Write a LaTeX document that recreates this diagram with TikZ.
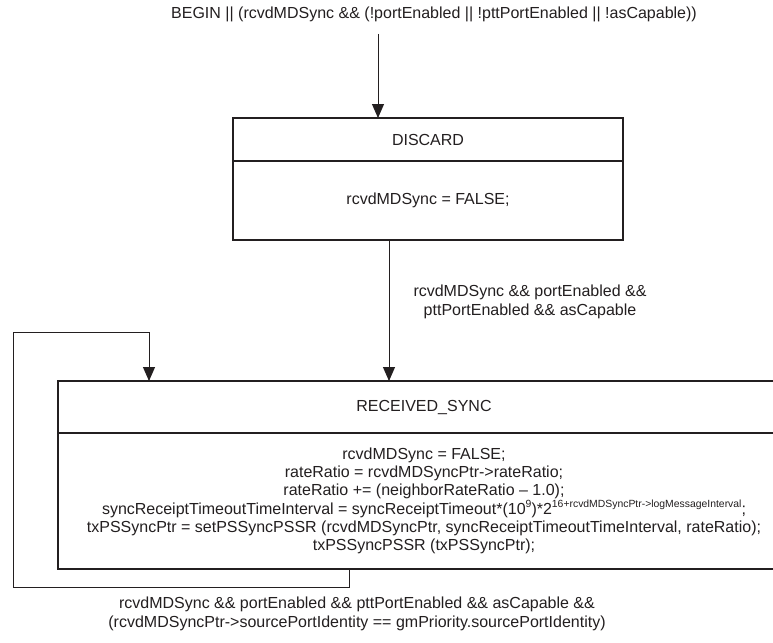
\documentclass[tikz,border=0pt]{standalone}
\usepackage{fontspec}
\setmainfont{Liberation Sans}
\usetikzlibrary{arrows.meta}
\definecolor{ink}{RGB}{35,31,32}
\newcommand{\supx}[1]{\raisebox{6.5pt}{\fontsize{10.4}{12}\selectfont #1}}
\begin{document}
\begin{tikzpicture}[x=1pt,y=-1pt,
  txt/.style={inner sep=0pt, outer sep=0pt, text=ink, font=\fontsize{16}{18.3}\selectfont},
  statebox/.style={txt, draw=ink, line width=1.8pt, rectangle},
  arr/.style={draw=ink, line width=1pt, -{Triangle[length=14pt,width=12pt]}}]
\useasboundingbox (0,0) rectangle (773,642);
\clip (0,0) rectangle (773,642);
\fill[white] (0,0) rectangle (773,642);

\node[txt] (title) at (434,14) {BEGIN || (rcvdMDSync \&\& (!portEnabled || !pttPortEnabled || !asCapable))};

\node[statebox, minimum width=390, minimum height=43] (dhead) at (428,139.5) {DISCARD};
\node[statebox, minimum width=390, minimum height=79] (dbody) at (428,200.5) {rcvdMDSync = FALSE;};

\node[statebox, minimum width=732, minimum height=52] (rhead) at (424,407) {RECEIVED\_SYNC};
\node[statebox, minimum width=732, minimum height=136, align=center] (rbody) at (424,501) {rcvdMDSync = FALSE;\\
rateRatio = rcvdMDSyncPtr->rateRatio;\\
rateRatio += (neighborRateRatio – 1.0);\\
syncReceiptTimeoutTimeInterval = syncReceiptTimeout*(10\supx{9})*2\supx{16+rcvdMDSyncPtr->logMessageInterval};\\
txPSSyncPtr = setPSSyncPSSR (rcvdMDSyncPtr, syncReceiptTimeoutTimeInterval, rateRatio);\\
txPSSyncPSSR (txPSSyncPtr);};

\node[txt, align=center] (lab1) at (530,302) {rcvdMDSync \&\& portEnabled \&\&\\pttPortEnabled \&\& asCapable};
\node[txt, align=center] (lab2) at (357,614) {rcvdMDSync \&\& portEnabled \&\& pttPortEnabled \&\& asCapable \&\&\\(rcvdMDSyncPtr->sourcePortIdentity == gmPriority.sourcePortIdentity)};

\coordinate (s1) at (378,34);
\draw[arr] (s1) -- (s1 |- dhead.north);

\coordinate (s2) at (389,240);
\draw[arr] (s2 |- dbody.south) -- (s2 |- rhead.north);

\coordinate (lpA) at (349,587);
\coordinate (lpB) at (13,587);
\coordinate (lpC) at (13,332);
\coordinate (lpD) at (149,332);
\draw[arr] (lpA |- rbody.south) -- (lpA) -- (lpB) -- (lpC) -- (lpD) -- (lpD |- rhead.north);
\end{tikzpicture}
\end{document}
